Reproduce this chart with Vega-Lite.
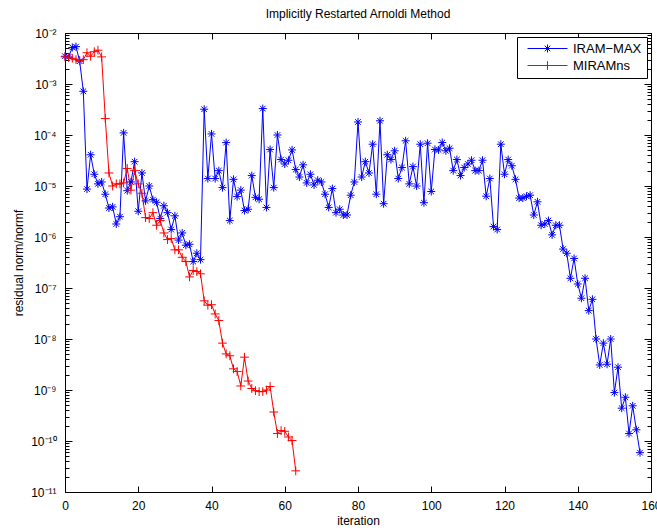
{
  "$schema": "https://vega.github.io/schema/vega-lite/v6.json",
  "width": 586,
  "height": 459,
  "autosize": {"type": "none"},
  "padding": {"left": 65, "top": 33, "right": 6, "bottom": 38},
  "background": "white",
  "config": {
    "font": "Liberation Sans",
    "view": {"stroke": "#000", "strokeWidth": 1},
    "axis": {"domain": false, "grid": false, "tickColor": "#000", "labelColor": "#000", "titleColor": "#000", "labelFont": "Liberation Sans", "titleFont": "Liberation Sans", "labelFontSize": 12, "titleFontSize": 12, "titleFontWeight": "normal"},
    "legend": {"strokeColor": "#000", "fillColor": "#fff", "padding": 5, "labelFontSize": 13, "labelFont": "Liberation Sans", "labelColor": "#000", "symbolStrokeWidth": 1, "rowPadding": 3, "cornerRadius": 0}
  },
  "title": {"text": "Implicitly Restarted Arnoldi Method", "fontSize": 12, "fontWeight": "normal", "offset": 6, "anchor": "middle", "color": "#000", "font": "Liberation Sans"},
  "data": {"values": [
    {"s":"IRAM−MAX","i":0,"v":3.5e-3},{"s":"IRAM−MAX","i":1,"v":3.4e-3},{"s":"IRAM−MAX","i":2,"v":5.2e-3},{"s":"IRAM−MAX","i":3,"v":5.4e-3},{"s":"IRAM−MAX","i":4,"v":2.8e-3},{"s":"IRAM−MAX","i":5,"v":7.2e-4},{"s":"IRAM−MAX","i":6,"v":8.7e-6},{"s":"IRAM−MAX","i":7,"v":4.1e-5},{"s":"IRAM−MAX","i":8,"v":1.7e-5},{"s":"IRAM−MAX","i":9,"v":1.1e-5},
    {"s":"IRAM−MAX","i":10,"v":1.2e-5},{"s":"IRAM−MAX","i":11,"v":6.9e-6},{"s":"IRAM−MAX","i":12,"v":3.7e-6},{"s":"IRAM−MAX","i":13,"v":3.9e-6},{"s":"IRAM−MAX","i":14,"v":1.8e-6},{"s":"IRAM−MAX","i":15,"v":2.5e-6},{"s":"IRAM−MAX","i":16,"v":1.1e-4},{"s":"IRAM−MAX","i":17,"v":8.1e-6},{"s":"IRAM−MAX","i":18,"v":1.2e-5},{"s":"IRAM−MAX","i":19,"v":3.0e-5},
    {"s":"IRAM−MAX","i":20,"v":3.2e-6},{"s":"IRAM−MAX","i":21,"v":1.8e-5},{"s":"IRAM−MAX","i":22,"v":5.1e-6},{"s":"IRAM−MAX","i":23,"v":1.0e-5},{"s":"IRAM−MAX","i":24,"v":5.4e-6},{"s":"IRAM−MAX","i":25,"v":4.8e-6},{"s":"IRAM−MAX","i":26,"v":2.3e-6},{"s":"IRAM−MAX","i":27,"v":4.1e-6},{"s":"IRAM−MAX","i":28,"v":3.0e-6},{"s":"IRAM−MAX","i":29,"v":1.4e-6},
    {"s":"IRAM−MAX","i":30,"v":2.6e-6},{"s":"IRAM−MAX","i":31,"v":8.7e-7},{"s":"IRAM−MAX","i":32,"v":1.2e-6},{"s":"IRAM−MAX","i":33,"v":6.9e-7},{"s":"IRAM−MAX","i":34,"v":7.2e-7},{"s":"IRAM−MAX","i":35,"v":3.3e-7},{"s":"IRAM−MAX","i":36,"v":4.8e-7},{"s":"IRAM−MAX","i":37,"v":3.6e-7},{"s":"IRAM−MAX","i":38,"v":3.2e-4},{"s":"IRAM−MAX","i":39,"v":1.4e-5},
    {"s":"IRAM−MAX","i":40,"v":1.05e-4},{"s":"IRAM−MAX","i":41,"v":1.4e-5},{"s":"IRAM−MAX","i":42,"v":2.0e-5},{"s":"IRAM−MAX","i":43,"v":9.3e-6},{"s":"IRAM−MAX","i":44,"v":7.1e-5},{"s":"IRAM−MAX","i":45,"v":2.1e-6},{"s":"IRAM−MAX","i":46,"v":1.35e-5},{"s":"IRAM−MAX","i":47,"v":6.2e-6},{"s":"IRAM−MAX","i":48,"v":8.3e-6},{"s":"IRAM−MAX","i":49,"v":3.3e-6},
    {"s":"IRAM−MAX","i":50,"v":3.5e-6},{"s":"IRAM−MAX","i":51,"v":1.6e-5},{"s":"IRAM−MAX","i":52,"v":6.0e-6},{"s":"IRAM−MAX","i":53,"v":5.5e-6},{"s":"IRAM−MAX","i":54,"v":3.3e-4},{"s":"IRAM−MAX","i":55,"v":3.8e-6},{"s":"IRAM−MAX","i":56,"v":5.2e-5},{"s":"IRAM−MAX","i":57,"v":9.3e-6},{"s":"IRAM−MAX","i":58,"v":1.0e-4},{"s":"IRAM−MAX","i":59,"v":3.3e-5},
    {"s":"IRAM−MAX","i":60,"v":2.7e-5},{"s":"IRAM−MAX","i":61,"v":3.2e-5},{"s":"IRAM−MAX","i":62,"v":5.1e-5},{"s":"IRAM−MAX","i":63,"v":2.1e-5},{"s":"IRAM−MAX","i":64,"v":1.5e-5},{"s":"IRAM−MAX","i":65,"v":2.6e-5},{"s":"IRAM−MAX","i":66,"v":1.15e-5},{"s":"IRAM−MAX","i":67,"v":1.7e-5},{"s":"IRAM−MAX","i":68,"v":1.05e-5},{"s":"IRAM−MAX","i":69,"v":1.3e-5},
    {"s":"IRAM−MAX","i":70,"v":1.2e-5},{"s":"IRAM−MAX","i":71,"v":6.9e-6},{"s":"IRAM−MAX","i":72,"v":3.8e-6},{"s":"IRAM−MAX","i":73,"v":8.9e-6},{"s":"IRAM−MAX","i":74,"v":3.0e-6},{"s":"IRAM−MAX","i":75,"v":3.5e-6},{"s":"IRAM−MAX","i":76,"v":2.7e-6},{"s":"IRAM−MAX","i":77,"v":2.7e-6},{"s":"IRAM−MAX","i":78,"v":6.6e-6},{"s":"IRAM−MAX","i":79,"v":1.2e-5},
    {"s":"IRAM−MAX","i":80,"v":1.8e-4},{"s":"IRAM−MAX","i":81,"v":1.5e-5},{"s":"IRAM−MAX","i":82,"v":3.0e-5},{"s":"IRAM−MAX","i":83,"v":1.8e-5},{"s":"IRAM−MAX","i":84,"v":6.6e-5},{"s":"IRAM−MAX","i":85,"v":6.9e-6},{"s":"IRAM−MAX","i":86,"v":1.9e-4},{"s":"IRAM−MAX","i":87,"v":4.5e-6},{"s":"IRAM−MAX","i":88,"v":4.1e-5},{"s":"IRAM−MAX","i":89,"v":3.3e-5},
    {"s":"IRAM−MAX","i":90,"v":4.9e-5},{"s":"IRAM−MAX","i":91,"v":1.4e-5},{"s":"IRAM−MAX","i":92,"v":2.3e-5},{"s":"IRAM−MAX","i":93,"v":7.7e-5},{"s":"IRAM−MAX","i":94,"v":1.1e-5},{"s":"IRAM−MAX","i":95,"v":2.4e-5},{"s":"IRAM−MAX","i":96,"v":1.0e-5},{"s":"IRAM−MAX","i":97,"v":6.6e-5},{"s":"IRAM−MAX","i":98,"v":4.7e-6},{"s":"IRAM−MAX","i":99,"v":6.9e-5},
    {"s":"IRAM−MAX","i":100,"v":7.8e-6},{"s":"IRAM−MAX","i":101,"v":5.2e-5},{"s":"IRAM−MAX","i":102,"v":5.1e-5},{"s":"IRAM−MAX","i":103,"v":7.1e-5},{"s":"IRAM−MAX","i":104,"v":4.9e-5},{"s":"IRAM−MAX","i":105,"v":5.5e-5},{"s":"IRAM−MAX","i":106,"v":2.0e-5},{"s":"IRAM−MAX","i":107,"v":3.3e-5},{"s":"IRAM−MAX","i":108,"v":1.6e-5},{"s":"IRAM−MAX","i":109,"v":2.3e-5},
    {"s":"IRAM−MAX","i":110,"v":2.7e-5},{"s":"IRAM−MAX","i":111,"v":3.2e-5},{"s":"IRAM−MAX","i":112,"v":2.0e-5},{"s":"IRAM−MAX","i":113,"v":2.0e-5},{"s":"IRAM−MAX","i":114,"v":3.2e-5},{"s":"IRAM−MAX","i":115,"v":6.3e-6},{"s":"IRAM−MAX","i":116,"v":1.4e-5},{"s":"IRAM−MAX","i":117,"v":1.6e-6},{"s":"IRAM−MAX","i":118,"v":1.4e-6},{"s":"IRAM−MAX","i":119,"v":6.6e-5},
    {"s":"IRAM−MAX","i":120,"v":1.7e-5},{"s":"IRAM−MAX","i":121,"v":3.3e-5},{"s":"IRAM−MAX","i":122,"v":2.5e-5},{"s":"IRAM−MAX","i":123,"v":1.35e-5},{"s":"IRAM−MAX","i":124,"v":5.8e-6},{"s":"IRAM−MAX","i":125,"v":5.8e-6},{"s":"IRAM−MAX","i":126,"v":6.3e-6},{"s":"IRAM−MAX","i":127,"v":6.6e-6},{"s":"IRAM−MAX","i":128,"v":2.7e-6},{"s":"IRAM−MAX","i":129,"v":4.9e-6},
    {"s":"IRAM−MAX","i":130,"v":1.7e-6},{"s":"IRAM−MAX","i":131,"v":1.8e-6},{"s":"IRAM−MAX","i":132,"v":2.1e-6},{"s":"IRAM−MAX","i":133,"v":1.1e-6},{"s":"IRAM−MAX","i":134,"v":1.7e-6},{"s":"IRAM−MAX","i":135,"v":1.7e-6},{"s":"IRAM−MAX","i":136,"v":5.8e-7},{"s":"IRAM−MAX","i":137,"v":4.8e-7},{"s":"IRAM−MAX","i":138,"v":1.55e-7},{"s":"IRAM−MAX","i":139,"v":3.8e-7},
    {"s":"IRAM−MAX","i":140,"v":1.2e-7},{"s":"IRAM−MAX","i":141,"v":6.3e-8},{"s":"IRAM−MAX","i":142,"v":1.55e-7},{"s":"IRAM−MAX","i":143,"v":3.6e-8},{"s":"IRAM−MAX","i":144,"v":6.0e-8},{"s":"IRAM−MAX","i":145,"v":1.0e-8},{"s":"IRAM−MAX","i":146,"v":3.1e-9},{"s":"IRAM−MAX","i":147,"v":8.3e-9},{"s":"IRAM−MAX","i":148,"v":3.2e-9},{"s":"IRAM−MAX","i":149,"v":1.0e-8},
    {"s":"IRAM−MAX","i":150,"v":8.9e-10},{"s":"IRAM−MAX","i":151,"v":2.8e-9},{"s":"IRAM−MAX","i":152,"v":4.4e-10},{"s":"IRAM−MAX","i":153,"v":7.2e-10},{"s":"IRAM−MAX","i":154,"v":1.4e-10},{"s":"IRAM−MAX","i":155,"v":4.9e-10},{"s":"IRAM−MAX","i":156,"v":1.66e-10},{"s":"IRAM−MAX","i":157,"v":5.9e-11},
    {"s":"MIRAMns","i":0,"v":3.4e-3},{"s":"MIRAMns","i":1,"v":3.3e-3},{"s":"MIRAMns","i":2,"v":3.2e-3},{"s":"MIRAMns","i":3,"v":3.0e-3},{"s":"MIRAMns","i":4,"v":2.9e-3},{"s":"MIRAMns","i":5,"v":3.0e-3},{"s":"MIRAMns","i":6,"v":4.1e-3},{"s":"MIRAMns","i":7,"v":3.5e-3},{"s":"MIRAMns","i":8,"v":4.3e-3},{"s":"MIRAMns","i":9,"v":4.6e-3},
    {"s":"MIRAMns","i":10,"v":3.4e-3},{"s":"MIRAMns","i":11,"v":2.1e-4},{"s":"MIRAMns","i":12,"v":1.8e-5},{"s":"MIRAMns","i":13,"v":1.0e-5},{"s":"MIRAMns","i":14,"v":1.1e-5},{"s":"MIRAMns","i":15,"v":1.1e-5},{"s":"MIRAMns","i":16,"v":1.15e-5},{"s":"MIRAMns","i":17,"v":2.2e-5},{"s":"MIRAMns","i":18,"v":8.3e-6},{"s":"MIRAMns","i":19,"v":2.0e-5},
    {"s":"MIRAMns","i":20,"v":1.1e-5},{"s":"MIRAMns","i":21,"v":7.2e-6},{"s":"MIRAMns","i":22,"v":2.4e-6},{"s":"MIRAMns","i":23,"v":2.3e-6},{"s":"MIRAMns","i":24,"v":3.0e-6},{"s":"MIRAMns","i":25,"v":1.7e-6},{"s":"MIRAMns","i":26,"v":2.1e-6},{"s":"MIRAMns","i":27,"v":1.2e-6},{"s":"MIRAMns","i":28,"v":8.9e-7},{"s":"MIRAMns","i":29,"v":9.3e-7},
    {"s":"MIRAMns","i":30,"v":5.6e-7},{"s":"MIRAMns","i":31,"v":5.6e-7},{"s":"MIRAMns","i":32,"v":4.0e-7},{"s":"MIRAMns","i":33,"v":3.3e-7},{"s":"MIRAMns","i":34,"v":1.65e-7},{"s":"MIRAMns","i":35,"v":2.2e-7},{"s":"MIRAMns","i":36,"v":2.1e-7},{"s":"MIRAMns","i":37,"v":1.9e-7},{"s":"MIRAMns","i":38,"v":5.6e-8},{"s":"MIRAMns","i":39,"v":4.6e-8},
    {"s":"MIRAMns","i":40,"v":4.7e-8},{"s":"MIRAMns","i":41,"v":3.1e-8},{"s":"MIRAMns","i":42,"v":2.3e-8},{"s":"MIRAMns","i":43,"v":8.3e-9},{"s":"MIRAMns","i":44,"v":5.1e-9},{"s":"MIRAMns","i":45,"v":4.7e-9},{"s":"MIRAMns","i":46,"v":2.6e-9},{"s":"MIRAMns","i":47,"v":2.3e-9},{"s":"MIRAMns","i":48,"v":1.2e-9},{"s":"MIRAMns","i":49,"v":4.4e-9},
    {"s":"MIRAMns","i":50,"v":1.5e-9},{"s":"MIRAMns","i":51,"v":1.07e-9},{"s":"MIRAMns","i":52,"v":9.7e-10},{"s":"MIRAMns","i":53,"v":9.3e-10},{"s":"MIRAMns","i":54,"v":9.3e-10},{"s":"MIRAMns","i":55,"v":1.0e-9},{"s":"MIRAMns","i":56,"v":1.17e-9},{"s":"MIRAMns","i":57,"v":3.7e-10},{"s":"MIRAMns","i":58,"v":1.4e-10},{"s":"MIRAMns","i":59,"v":1.6e-10},
    {"s":"MIRAMns","i":60,"v":1.55e-10},{"s":"MIRAMns","i":61,"v":1.2e-10},{"s":"MIRAMns","i":62,"v":1.02e-10},{"s":"MIRAMns","i":63,"v":2.6e-11}
  ]},
  "layer": [
    {
      "mark": {"type": "line", "strokeWidth": 1},
      "encoding": {
        "x": {"field": "i", "type": "quantitative",
          "scale": {"domain": [0, 160], "nice": false, "zero": false},
          "axis": {"orient": "bottom", "values": [0,20,40,60,80,100,120,140,160], "tickSize": -6, "labelPadding": 14, "labelFlush": false, "title": "iteration", "titlePadding": 4}},
        "y": {"field": "v", "type": "quantitative",
          "scale": {"type": "log", "domain": [1e-11, 1e-2], "nice": false},
          "axis": {"orient": "left",
            "values": [1e-11,2e-11,3e-11,4e-11,5e-11,6e-11,7e-11,8e-11,9e-11,1e-10,2e-10,3e-10,4e-10,5e-10,6e-10,7e-10,8e-10,9e-10,1e-9,2e-9,3e-9,4e-9,5e-9,6e-9,7e-9,8e-9,9e-9,1e-8,2e-8,3e-8,4e-8,5e-8,6e-8,7e-8,8e-8,9e-8,1e-7,2e-7,3e-7,4e-7,5e-7,6e-7,7e-7,8e-7,9e-7,1e-6,2e-6,3e-6,4e-6,5e-6,6e-6,7e-6,8e-6,9e-6,1e-5,2e-5,3e-5,4e-5,5e-5,6e-5,7e-5,8e-5,9e-5,1e-4,2e-4,3e-4,4e-4,5e-4,6e-4,7e-4,8e-4,9e-4,1e-3,2e-3,3e-3,4e-3,5e-3,6e-3,7e-3,8e-3,9e-3,1e-2],
            "tickSize": {"condition": {"test": "abs(log(datum.value)/LN10 - round(log(datum.value)/LN10)) < 0.01", "value": -7}, "value": -4},
            "labelExpr": "abs(log(datum.value)/LN10 - round(log(datum.value)/LN10)) < 0.01 ? '10' + ['⁻¹¹','⁻¹⁰','⁻⁹','⁻⁸','⁻⁷','⁻⁶','⁻⁵','⁻⁴','⁻³','⁻²'][round(log(datum.value)/LN10)+11] : ''",
            "labelPadding": 16, "labelFlush": false, "labelOverlap": false, "labelBound": false,
            "title": "residual norm/normf", "titlePadding": 5}},
        "color": {"field": "s", "type": "nominal",
          "scale": {"domain": ["IRAM−MAX", "MIRAMns"], "range": ["#0000ff", "#ff0000"]},
          "legend": {"title": null, "orient": "none", "legendX": 452, "legendY": 4, "symbolSize": 64, "symbolOffset": 19, "labelOffset": 19,
            "encode": {"symbols": {"update": {"shape": {"signal": "datum.value === 'IRAM−MAX' ? 'M-5,0L5,0M0,-1L0,1M-1,0L1,0M-0.7,-0.7L0.7,0.7M-0.7,0.7L0.7,-0.7' : 'M-5,0L5,0M0,-1.1L0,1.1'"}, "fill": {"value": "transparent"}}}}}}
      }
    },
    {
      "mark": {"type": "point", "filled": false, "strokeWidth": 1, "size": 64, "opacity": 1},
      "encoding": {
        "x": {"field": "i", "type": "quantitative",
          "axis": {"orient": "top", "values": [0,20,40,60,80,100,120,140,160], "tickSize": -6, "labels": false, "title": null}},
        "y": {"field": "v", "type": "quantitative",
          "axis": {"orient": "right",
            "values": [1e-11,2e-11,3e-11,4e-11,5e-11,6e-11,7e-11,8e-11,9e-11,1e-10,2e-10,3e-10,4e-10,5e-10,6e-10,7e-10,8e-10,9e-10,1e-9,2e-9,3e-9,4e-9,5e-9,6e-9,7e-9,8e-9,9e-9,1e-8,2e-8,3e-8,4e-8,5e-8,6e-8,7e-8,8e-8,9e-8,1e-7,2e-7,3e-7,4e-7,5e-7,6e-7,7e-7,8e-7,9e-7,1e-6,2e-6,3e-6,4e-6,5e-6,6e-6,7e-6,8e-6,9e-6,1e-5,2e-5,3e-5,4e-5,5e-5,6e-5,7e-5,8e-5,9e-5,1e-4,2e-4,3e-4,4e-4,5e-4,6e-4,7e-4,8e-4,9e-4,1e-3,2e-3,3e-3,4e-3,5e-3,6e-3,7e-3,8e-3,9e-3,1e-2],
            "tickSize": {"condition": {"test": "abs(log(datum.value)/LN10 - round(log(datum.value)/LN10)) < 0.01", "value": -7}, "value": -4},
            "labels": false, "title": null}},
        "color": {"field": "s", "type": "nominal"},
        "shape": {"condition": {"test": "datum.s === 'MIRAMns'", "value": "M-1.1,0L1.1,0M0,-1.1L0,1.1"}, "value": "M-1,0L1,0M0,-1L0,1M-0.7,-0.7L0.7,0.7M-0.7,0.7L0.7,-0.7"}
      }
    }
  ],
  "resolve": {"axis": {"x": "independent", "y": "independent"}}
}
